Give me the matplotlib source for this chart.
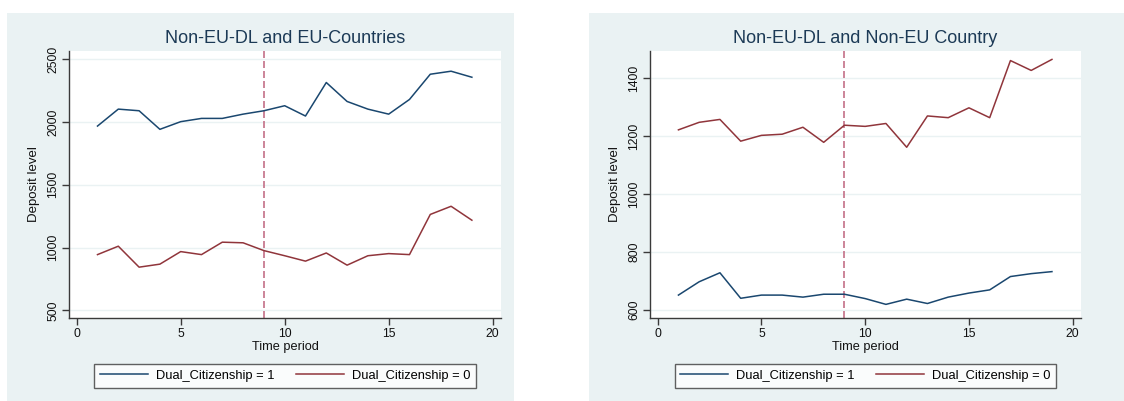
import matplotlib.pyplot as plt
from matplotlib.patches import Rectangle

plt.rcParams['font.family'] = ['Liberation Sans', 'DejaVu Sans']

# time periods 1..19
periods = list(range(1, 20))

# Non-EU-DL and EU-Countries
eu_dual1 = [1968, 2103, 2090, 1942, 2003, 2029, 2029, 2063, 2090, 2130,
            2048, 2315, 2164, 2103, 2063, 2180, 2381, 2405, 2357]
eu_dual0 = [944, 1011, 844, 868, 968, 944, 1043, 1038, 976, 935,
            892, 957, 860, 935, 952, 944, 1264, 1329, 1218]

# Non-EU-DL and Non-EU Country
noneu_dual1 = [652, 698, 729, 641, 652, 652, 645, 655, 655, 640,
               620, 638, 623, 645, 659, 670, 716, 726, 733]
noneu_dual0 = [1222, 1248, 1258, 1183, 1203, 1207, 1231, 1179, 1238, 1234,
               1244, 1162, 1270, 1264, 1298, 1264, 1461, 1427, 1465]

titles = ['Non-EU-DL and EU-Countries', 'Non-EU-DL and Non-EU Country']
yticks = [[500, 1000, 1500, 2000, 2500], [600, 800, 1000, 1200, 1400]]
ylims = [(439, 2566), (573, 1494)]
xticks = [0, 5, 10, 15, 20]
event_period = 9

NAVY = '#1a476f'
MAROON = '#90353b'
BG = '#eaf2f3'
SPINE = '#3a3a3a'

W, H = 1124, 401
fig = plt.figure(figsize=(W / 100, H / 100), dpi=100, facecolor='white')


def px_rect(x0, y0, x1, y1):
    # pixel box (top-left origin) -> figure fraction [left, bottom, width, height]
    return [x0 / W, (H - y1) / H, (x1 - x0) / W, (y1 - y0) / H]


# light panel backgrounds
for x0, x1 in [(7, 514), (589, 1124)]:
    l, b, w, h = px_rect(x0, 13, x1, 401)
    fig.patches.append(Rectangle((l, b), w, h, transform=fig.transFigure,
                                 facecolor=BG, edgecolor='none', zorder=-10))

axes_boxes = [(69, 51, 501, 318), (650, 51, 1081, 318)]
series = [(eu_dual1, eu_dual0), (noneu_dual1, noneu_dual0)]

for i, ax_box in enumerate(axes_boxes):
    ax = fig.add_axes(px_rect(*ax_box))
    ax.set_zorder(5)
    ax.set_facecolor('white')
    d1, d0 = series[i]

    for yv in yticks[i]:
        ax.axhline(yv, color=BG, lw=1.0, zorder=1)

    ax.plot(periods, d1, color=NAVY, lw=1.1, label='Dual_Citizenship = 1', zorder=3)
    ax.plot(periods, d0, color=MAROON, lw=1.1, label='Dual_Citizenship = 0', zorder=3)
    ax.axvline(event_period, color='#c47088', lw=1.2, dashes=(4.2, 1.8), zorder=2)

    ax.set_xlim(-0.37, 20.4)
    ax.set_ylim(*ylims[i])
    ax.set_xticks(xticks)
    ax.set_yticks(yticks[i])
    ax.set_yticklabels([str(v) for v in yticks[i]], rotation=90, va='center')

    for side in ['top', 'right']:
        ax.spines[side].set_visible(False)
    for side in ['left', 'bottom']:
        ax.spines[side].set_color(SPINE)
        ax.spines[side].set_linewidth(1.0)
    ax.tick_params(axis='both', direction='out', length=5, width=1.0,
                   color=SPINE, labelsize=8.8, labelcolor='#111111', pad=2)

    ax.set_title(titles[i], fontsize=13, color='#1c3a56', pad=6)
    ax.set_xlabel('Time period', fontsize=9.2, color='#111111', labelpad=1)
    ax.set_ylabel('Deposit level', fontsize=9.5, color='#111111', labelpad=5)

    leg = ax.legend(loc='upper center', bbox_to_anchor=(0.5, -0.172), ncol=2,
                    fontsize=9.3, frameon=True, fancybox=False,
                    handlelength=3.7, columnspacing=1.7, handletextpad=0.6,
                    borderpad=0.45, borderaxespad=0)
    leg.get_frame().set_edgecolor(SPINE)
    leg.get_frame().set_linewidth(1.0)

fig.savefig('out.png', dpi=100, facecolor='white')
